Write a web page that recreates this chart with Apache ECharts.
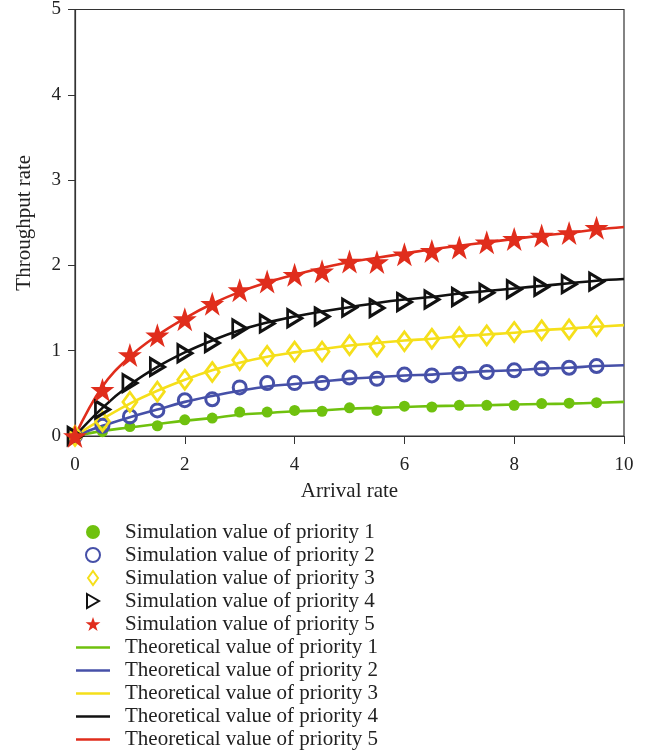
<!DOCTYPE html>
<html><head><meta charset="utf-8">
<script src="https://cdn.jsdelivr.net/npm/echarts@6/dist/echarts.min.js"></script>
<style>html,body{margin:0;padding:0;background:#fff}#c{width:658px;height:754px}</style>
</head><body><div id="c"></div>
<script>
// Simulation points (x = 0, 0.5, ..., 9.5)
const simX = [0,0.5,1,1.5,2,2.5,3,3.5,4,4.5,5,5.5,6,6.5,7,7.5,8,8.5,9,9.5];
const sim1 = [0,0.05,0.11,0.12,0.19,0.21,0.28,0.28,0.30,0.29,0.33,0.30,0.35,0.34,0.36,0.36,0.36,0.38,0.385,0.39];
const sim2 = [0,0.12,0.23,0.30,0.42,0.43,0.57,0.62,0.62,0.62,0.685,0.67,0.72,0.71,0.73,0.75,0.77,0.79,0.80,0.82];
const sim3 = [0,0.17,0.40,0.52,0.66,0.75,0.89,0.94,0.99,0.99,1.065,1.05,1.11,1.14,1.16,1.18,1.22,1.24,1.25,1.29];
const sim4 = [0,0.31,0.62,0.81,0.97,1.09,1.26,1.32,1.38,1.40,1.505,1.50,1.57,1.60,1.63,1.68,1.72,1.75,1.78,1.81];
const sim5 = [0,0.54,0.95,1.18,1.37,1.55,1.71,1.81,1.89,1.93,2.045,2.04,2.13,2.17,2.21,2.27,2.31,2.35,2.38,2.44];
const thX = [0,0.5,1,1.5,2,2.5,3,3.5,4,4.5,5,5.5,6,6.5,7,7.5,8,8.5,9,9.5,10];
const th1 = [0,0.06,0.10,0.14,0.18,0.21,0.25,0.27,0.29,0.30,0.32,0.33,0.34,0.35,0.355,0.36,0.37,0.375,0.38,0.39,0.40];
const th2 = [0,0.12,0.22,0.31,0.40,0.47,0.53,0.58,0.61,0.64,0.67,0.69,0.71,0.72,0.74,0.76,0.77,0.79,0.80,0.82,0.83];
const th3 = [0,0.20,0.38,0.53,0.66,0.77,0.86,0.93,0.98,1.02,1.06,1.09,1.12,1.14,1.17,1.19,1.21,1.24,1.26,1.28,1.30];
const th4 = [0,0.33,0.60,0.81,0.98,1.12,1.24,1.33,1.40,1.46,1.51,1.56,1.60,1.63,1.67,1.70,1.73,1.76,1.79,1.82,1.84];
const th5 = [0,0.58,0.93,1.18,1.38,1.55,1.69,1.80,1.89,1.97,2.04,2.09,2.14,2.19,2.23,2.27,2.31,2.35,2.38,2.42,2.45];
const simNames = ['Simulation value of priority 1','Simulation value of priority 2','Simulation value of priority 3','Simulation value of priority 4','Simulation value of priority 5'];
const thNames = ['Theoretical value of priority 1','Theoretical value of priority 2','Theoretical value of priority 3','Theoretical value of priority 4','Theoretical value of priority 5'];
const xTicks = [0,2,4,6,8,10];
const yTicks = [0,1,2,3,4,5];

const colors = ['#6fc10e','#4650a8','#f5df1a','#111111','#e02d1c'];
const STAR = 'path://M50,0 L61.8,35.4 L99,35.4 L69,57.3 L80.4,92.7 L50,70.8 L19.6,92.7 L31,57.3 L1,35.4 L38.2,35.4 Z';
const TRI = 'path://M0,0 L12,7 L0,14 Z';
const DIA = 'path://M5,0 L10,7 L5,14 L0,7 Z';
const FONT = 'Liberation Serif';
const sims = [sim1,sim2,sim3,sim4,sim5];
const ths = [th1,th2,th3,th4,th5];
const zip = (xs, ys) => xs.map((x,i)=>[x,ys[i]]);

const symbols = [
  {symbol:'circle', size:11, filled:true, bw:0},
  {symbol:'circle', size:13, filled:false, bw:3},
  {symbol:DIA, size:[14,19], filled:false, bw:2.8},
  {symbol:TRI, size:[14,17], filled:false, bw:3},
  {symbol:STAR, size:24, filled:true, bw:0}
];

const series = [];
for (let i=0;i<5;i++){
  series.push({
    name: thNames[i], type:'line', smooth:0.4, symbol:'none', z:2,
    data: zip(thX, ths[i]),
    lineStyle:{color:colors[i], width:2.6}, itemStyle:{color:colors[i]}
  });
}
for (let i=0;i<5;i++){
  const s = symbols[i];
  series.push({
    name: simNames[i], type:'scatter', z:3,
    symbol: s.symbol, symbolSize: s.size,
    data: zip(simX, sims[i]),
    itemStyle: s.filled ? {color:colors[i], opacity:1} : {color:'rgba(255,255,255,0)', borderColor:colors[i], borderWidth:s.bw, opacity:1}
  });
}

const legendText = {fontFamily:FONT, fontSize:21, color:'#222', lineHeight:23, padding:[0,0,0,10]};
const chart = echarts.init(document.getElementById('c'), null, {renderer:'canvas'});
chart.setOption({
  animation:false,
  backgroundColor:'#fff',
  textStyle:{fontFamily:FONT},
  grid:{left:75, right:34, top:8, bottom:318, show:true, borderColor:'#333', borderWidth:1.2, containLabel:false},
  xAxis:{
    type:'value', min:0, max:10, interval:2,
    name:'Arrival rate', nameLocation:'middle', nameGap:45,
    nameTextStyle:{fontFamily:FONT, fontSize:21, color:'#222'},
    axisLine:{lineStyle:{color:'#333', width:1.2}},
    axisTick:{show:true, length:8, inside:false, lineStyle:{color:'#333'}},
    axisLabel:{fontFamily:FONT, fontSize:19, color:'#222', margin:20},
    splitLine:{show:false}
  },
  yAxis:{
    type:'value', min:0, max:5, interval:1,
    name:'Throughput rate', nameLocation:'middle', nameGap:40,
    nameTextStyle:{fontFamily:FONT, fontSize:21, color:'#222'},
    axisLine:{show:true, lineStyle:{color:'#333', width:1.2}},
    axisTick:{show:true, length:7, lineStyle:{color:'#333'}},
    axisLabel:{fontFamily:FONT, fontSize:19, color:'#222', margin:14},
    splitLine:{show:false}
  },
  legend:[{
    orient:'vertical', left:85, top:520.5, padding:0, itemGap:0, height:200,
    itemWidth:34, itemHeight:14,
    textStyle:legendText,
    data: simNames
  },{
    orient:'vertical', left:76, top:636, padding:0, itemGap:0, height:200,
    itemWidth:34, itemHeight:2.6, icon:'rect',
    textStyle:legendText,
    data: thNames
  }],
  series: series
});
</script></body></html>
